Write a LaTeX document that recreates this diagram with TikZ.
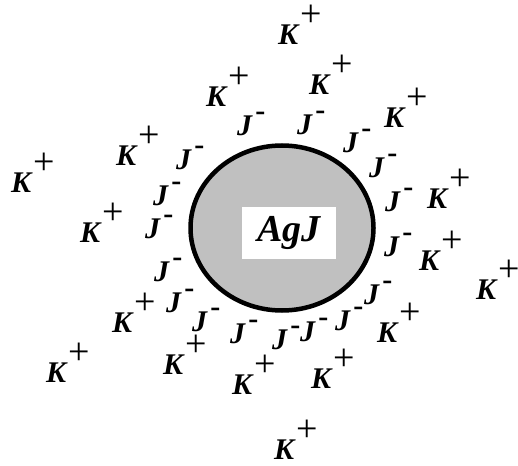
\documentclass[tikz,border=0pt]{standalone}
\usepackage{fontspec}
\setmainfont{Liberation Serif}[
	BoldFont={Liberation Serif Bold},
	ItalicFont={Liberation Serif Italic},
	BoldItalicFont={Liberation Serif Bold Italic}]
\newcommand{\kion}{\textbf{\textit{K}}\rlap{\kern0.5pt\smash{\raisebox{18pt}{\normalfont\fontsize{38}{38}\selectfont+}}}}
\newcommand{\jion}{\textbf{\textit{J}}\rlap{\kern2.5pt\smash{\raisebox{15pt}{\textbf{-}}}}}
\definecolor{grain}{RGB}{192,192,192}
\begin{document}
\begin{tikzpicture}[
	x=1pt,y=-1pt,
	ion/.style={inner sep=0pt,font=\fontsize{30}{36}\selectfont},
	core/.style={fill=white,inner sep=0pt,minimum width=94pt,minimum height=52pt,
		font=\fontsize{38}{44}\selectfont\bfseries\itshape}
]
	\useasboundingbox (0,0) rectangle (518,465);

	\draw[line width=4.5pt,fill=grain] (282,228) ellipse (91.5 and 82.5);
	\node[core] at (289,233) (agj) {AgJ};

	% counter ions
	\node[ion] at (289,35) (k1) {\kion};
	\node[ion] at (320,85) (k2) {\kion};
	\node[ion] at (217,97) (k3) {\kion};
	\node[ion] at (395,118) (k4) {\kion};
	\node[ion] at (127,156) (k5) {\kion};
	\node[ion] at (22,183) (k6) {\kion};
	\node[ion] at (438,199) (k7) {\kion};
	\node[ion] at (91,233) (k8) {\kion};
	\node[ion] at (430,261) (k9) {\kion};
	\node[ion] at (487,290) (k10) {\kion};
	\node[ion] at (123,323) (k11) {\kion};
	\node[ion] at (388,333) (k12) {\kion};
	\node[ion] at (57,373) (k13) {\kion};
	\node[ion] at (174,365) (k14) {\kion};
	\node[ion] at (243,385) (k15) {\kion};
	\node[ion] at (322,379) (k16) {\kion};
	\node[ion] at (285,450) (k17) {\kion};

	% potential determining ions
	\node[ion] at (245,126) (j1) {\jion};
	\node[ion] at (305,125) (j2) {\jion};
	\node[ion] at (351,143) (j3) {\jion};
	\node[ion] at (377,168) (j4) {\jion};
	\node[ion] at (393,202) (j5) {\jion};
	\node[ion] at (392,247) (j6) {\jion};
	\node[ion] at (372,295) (j7) {\jion};
	\node[ion] at (343,321) (j8) {\jion};
	\node[ion] at (308,332) (j9) {\jion};
	\node[ion] at (280,340) (j10) {\jion};
	\node[ion] at (238,334) (j11) {\jion};
	\node[ion] at (200,322) (j12) {\jion};
	\node[ion] at (174,303) (j13) {\jion};
	\node[ion] at (162,272) (j14) {\jion};
	\node[ion] at (153,229) (j15) {\jion};
	\node[ion] at (161,196) (j16) {\jion};
	\node[ion] at (184,160) (j17) {\jion};

\end{tikzpicture}
\end{document}
